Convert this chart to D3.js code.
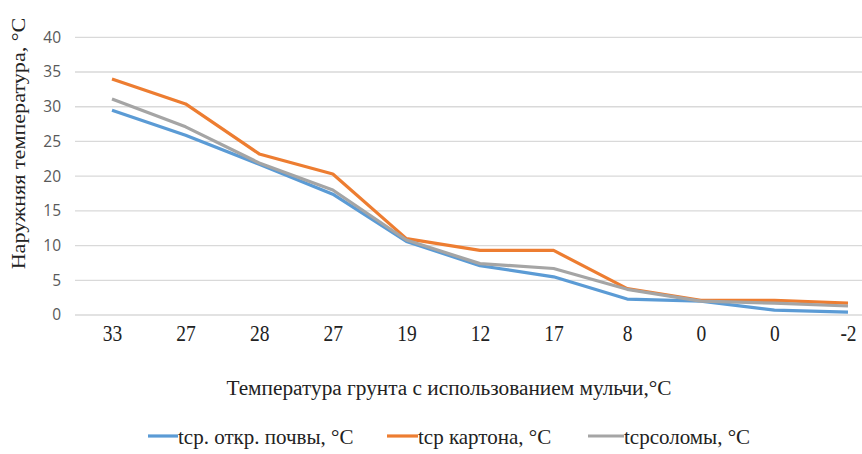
<!DOCTYPE html>
<html><head><meta charset="utf-8">
<script src="https://cdn.jsdelivr.net/npm/d3@7"></script>
<style>body{margin:0;background:#fff;} svg{display:block;} .serif{font-family:"Liberation Serif","Tinos","Times New Roman","DejaVu Serif",serif;}</style>
</head><body>
<svg id="c" width="862" height="454"></svg>
<script>
const categories = ["33","27","28","27","19","12","17","8","0","0","-2"];
const seriesNames = ["tср. откр. почвы, °C","tср картона, °C","tсрсоломы, °C"];
const openSoil = [29.5, 25.9, 21.7, 17.4, 10.6, 7.1, 5.5, 2.3, 2.0, 0.7, 0.4];
const cardboard = [34.0, 30.4, 23.2, 20.3, 11.0, 9.3, 9.3, 3.8, 2.1, 2.1, 1.7];
const straw = [31.1, 27.1, 21.9, 18.0, 10.8, 7.4, 6.7, 3.7, 2.0, 1.7, 1.3];
const yTicks = [0,5,10,15,20,25,30,35,40];
const colors = ["#5b9bd5","#ed7d31","#a5a5a5"];
const xTitle = "Температура грунта с использованием мульчи,°C";
const yTitle = "Наружняя температура, °C";

const svg = d3.select("#c");
const x = d3.scalePoint().domain(d3.range(categories.length)).range([112, 848]);
const y = d3.scaleLinear().domain([0,40]).range([315, 37.3]);

const grid = svg.append("g");
grid.selectAll("line").data(yTicks).join("line")
  .attr("x1", 75).attr("x2", 862)
  .attr("y1", d => y(d)).attr("y2", d => y(d))
  .attr("stroke", "#d9d9d9").attr("stroke-width", 1.3);

const yAxis = d3.axisLeft(y).tickValues(yTicks).tickSize(0).tickPadding(0);
const ya = svg.append("g").attr("transform", "translate(61,0)").call(yAxis);
ya.select(".domain").remove();
ya.selectAll("text").attr("font-family", "'Open Sans', sans-serif").attr("font-size", 15.5)
  .attr("fill", "#595959");

const xAxis = d3.axisBottom(x).tickFormat(i => categories[i]).tickSize(0).tickPadding(0);
const xa = svg.append("g").attr("transform", "translate(0,341)").call(xAxis);
xa.select(".domain").remove();
xa.selectAll("text").attr("font-family", null).attr("class", "serif").attr("font-size", 19.5)
  .attr("y", 0).attr("dy", null).attr("transform", "scale(1,1.15)")
  .attr("fill", "#222");

const data = [openSoil, cardboard, straw];
const line = d3.line().x((d,i) => x(i)).y(d => y(d));
svg.append("g").selectAll("path").data(data).join("path")
  .attr("d", line).attr("fill", "none")
  .attr("stroke", (d,i) => colors[i]).attr("stroke-width", 3.2)
  .attr("stroke-linejoin", "round").attr("stroke-linecap", "butt");

svg.append("text").attr("class", "serif").attr("x", 449).attr("y", 395).attr("text-anchor", "middle")
  .attr("font-size", 21.3).attr("fill", "#222").text(xTitle);
svg.append("text").attr("class", "serif").attr("transform", "translate(25,143.5) rotate(-90) scale(1.23,1)").attr("text-anchor", "middle")
  .attr("font-size", 18).attr("fill", "#222").text(yTitle);

const legX = [148, 387, 588];
const legLen = [30, 31, 36];
const lg = svg.append("g").selectAll("g").data(seriesNames).join("g")
  .attr("transform", (d,i) => `translate(${legX[i]},436)`);
lg.append("line").attr("x1", 0).attr("x2", (d,i) => legLen[i]).attr("y1", 0).attr("y2", 0)
  .attr("stroke", (d,i) => colors[i]).attr("stroke-width", 3.2);
lg.append("text").attr("class", "serif").attr("x", (d,i) => legLen[i]).attr("y", 7.5)
  .attr("font-size", 21).attr("fill", "#222").text(d => d);
</script>
</body></html>
